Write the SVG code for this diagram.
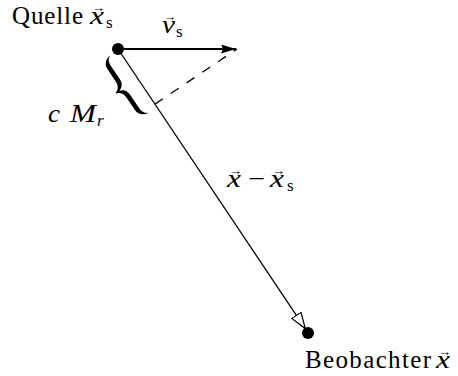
<svg xmlns="http://www.w3.org/2000/svg" width="458" height="376" viewBox="0 0 458 376">
<style>
text{font-family:"Liberation Serif","DejaVu Serif",serif;fill:#000;font-size:25px}
.i{font-style:italic}
.sub{font-size:17px;font-style:normal}
.arr{font-size:13px;font-style:normal}
.ln{stroke:#000;fill:none}
</style>
<defs>
<marker id="filled" markerUnits="userSpaceOnUse" markerWidth="16" markerHeight="10" refX="15" refY="4.5" orient="auto">
<path d="M0,0 L15,4.5 L0,9 Q3,4.5 0,0 Z" fill="#000"/>
</marker>
<marker id="open" markerUnits="userSpaceOnUse" markerWidth="18" markerHeight="13" refX="16.5" refY="6" orient="auto">
<path d="M0.5,0.5 L16.5,6 L0.5,11.5 Z" fill="#fff" stroke="#000" stroke-width="1.2"/>
</marker>
</defs>
<g id="connectors">
<line class="ln" x1="118" y1="49" x2="236" y2="49" stroke-width="1.8" marker-end="url(#filled)"/>
<line class="ln" x1="118" y1="49" x2="305.3" y2="328.6" stroke-width="1.3" marker-end="url(#open)"/>
<line class="ln" x1="155" y1="104.1" x2="237" y2="49" stroke-width="1.3" stroke-dasharray="9.5 9.5"/>
</g>
<g id="brace">
<path transform="translate(123.5,88) rotate(-33.8)" fill="#000" d="M7.5,-34.5 C2,-34.5 -2.8,-30.5 -2.8,-25 L-2.8,-9.5 C-2.8,-4.5 -5.5,-1.2 -10,0 C-5.5,1.2 -2.8,4.5 -2.8,9.5 L-2.8,25 C-2.8,30.5 2,34.5 7.5,34.5 C3.5,33.5 1.8,30 1.8,25 L1.8,9.5 C1.8,4.5 -0.5,1.2 -5,0 C-0.5,-1.2 1.8,-4.5 1.8,-9.5 L1.8,-25 C1.8,-30 3.5,-33.5 7.5,-34.5 Z"/>
</g>
<g id="source">
<circle cx="118" cy="49" r="6" fill="#000"/>
<text><tspan x="12" y="24" textLength="71">Quelle</tspan><tspan class="i" x="90" y="24" textLength="14" lengthAdjust="spacingAndGlyphs">x</tspan><tspan class="arr" x="92" y="12" textLength="13" lengthAdjust="spacingAndGlyphs">→</tspan><tspan class="sub" x="106" y="28">s</tspan></text>
</g>
<g id="observer">
<circle cx="308" cy="333" r="6" fill="#000"/>
<text><tspan x="305" y="368" textLength="126">Beobachter</tspan><tspan class="i" x="436" y="368" textLength="14" lengthAdjust="spacingAndGlyphs">x</tspan><tspan class="arr" x="438" y="356" textLength="13" lengthAdjust="spacingAndGlyphs">→</tspan></text>
</g>
<g id="labels">
<text><tspan class="i" x="162" y="33" textLength="13" lengthAdjust="spacingAndGlyphs">v</tspan><tspan class="arr" x="164" y="21" textLength="12" lengthAdjust="spacingAndGlyphs">→</tspan><tspan class="sub" x="176" y="37">s</tspan></text>
<text><tspan class="i" x="48" y="122" textLength="12" lengthAdjust="spacingAndGlyphs">c</tspan><tspan class="i" x="70" y="122" textLength="26" lengthAdjust="spacingAndGlyphs">M</tspan><tspan class="sub" style="font-style:italic" x="97" y="126">r</tspan></text>
<text><tspan class="i" x="227" y="187" textLength="14" lengthAdjust="spacingAndGlyphs">x</tspan><tspan class="arr" x="229" y="175" textLength="13" lengthAdjust="spacingAndGlyphs">→</tspan><tspan x="248" y="187" textLength="17" lengthAdjust="spacingAndGlyphs">−</tspan><tspan class="i" x="270" y="187" textLength="14" lengthAdjust="spacingAndGlyphs">x</tspan><tspan class="arr" x="272" y="175" textLength="13" lengthAdjust="spacingAndGlyphs">→</tspan><tspan class="sub" x="287" y="191">s</tspan></text>
</g>
</svg>
